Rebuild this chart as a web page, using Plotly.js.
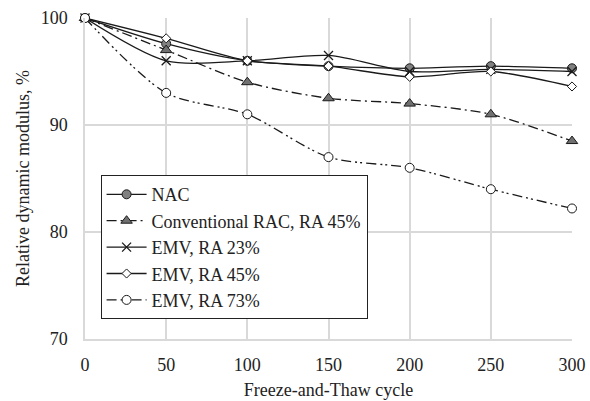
<!DOCTYPE html>
<html><head><meta charset="utf-8">
<script src="https://cdn.plot.ly/plotly-3.0.1.min.js"></script>
<style>body{margin:0;background:#fff}#c{width:590px;height:401px}</style>
</head><body><div id="c"></div>
<script>
const cycles = [0, 50, 100, 150, 200, 250, 300];
const nac = [100, 97.6, 96.0, 95.5, 95.3, 95.5, 95.3];
const rac45 = [100, 97.0, 94.0, 92.5, 92.0, 91.0, 88.5];
const emv23 = [100, 96.0, 96.0, 96.5, 95.0, 95.2, 95.0];
const emv45 = [100, 98.1, 96.0, 95.5, 94.5, 95.0, 93.6];
const emv73 = [100, 93.0, 91.0, 87.0, 86.0, 84.0, 82.2];
const names = ["NAC", "Conventional RAC, RA 45%", "EMV, RA 23%", "EMV, RA 45%", "EMV, RA 73%"];
const yTicks = [70, 80, 90, 100];

const F = 'Liberation Serif';
const lc = '#1a1a1a';
function tr(y, name, dash, sym, fill, size) {
  return {x: cycles, y: y, name: name, type: 'scatter', mode: 'lines+markers', cliponaxis: false,
    line: {color: lc, width: 1.3, dash: dash, shape: 'spline', smoothing: 0.8},
    marker: {symbol: sym, size: size, color: fill, line: {color: lc, width: 1}}};
}
const data = [
  tr(nac, names[0], 'solid', 'circle', '#808080', 9),
  tr(rac45, names[1], '10px,4px,2px,4px', 'triangle-up', '#707070', 10),
  tr(emv23, names[2], 'solid', 'x-thin', lc, 9),
  tr(emv45, names[3], 'solid', 'diamond', '#ffffff', 7),
  tr(emv73, names[4], '10px,4px,2px,3px,2px,4px', 'circle', '#ffffff', 9)
];
data[2].marker.line = {color: lc, width: 1.3};
const layout = {
  width: 590, height: 401,
  margin: {l: 85, r: 18, t: 18, b: 62},
  paper_bgcolor: '#fff', plot_bgcolor: '#fff',
  font: {family: F, color: '#222', size: 18},
  showlegend: true,
  legend: {x: 0.032, y: 0.062, xanchor: 'left', yanchor: 'bottom', bgcolor: '#fff',
    bordercolor: '#222', borderwidth: 1, font: {family: F, size: 18}, tracegroupgap: 0, itemwidth: 40},
  xaxis: {range: [0, 300], tickvals: cycles, showgrid: true, gridcolor: '#d9d9d9', gridwidth: 1.5,
    showline: true, linecolor: '#d9d9d9', linewidth: 1.5, zeroline: false, ticks: '',
    tickfont: {family: F, size: 18}, ticklabelstandoff: 9,
    title: {text: 'Freeze-and-Thaw cycle', font: {family: F, size: 18}, standoff: 9}},
  yaxis: {range: [70, 100], tickvals: yTicks, showgrid: true, gridcolor: '#d9d9d9', gridwidth: 1.5,
    showline: true, linecolor: '#d9d9d9', linewidth: 1.5, zeroline: false, ticks: '',
    tickfont: {family: F, size: 18}, ticklabelstandoff: 12,
    title: {text: 'Relative dynamic modulus, %', font: {family: F, size: 18}, standoff: 6}}
};
Plotly.newPlot('c', data, layout, {displayModeBar: false});
</script></body></html>
